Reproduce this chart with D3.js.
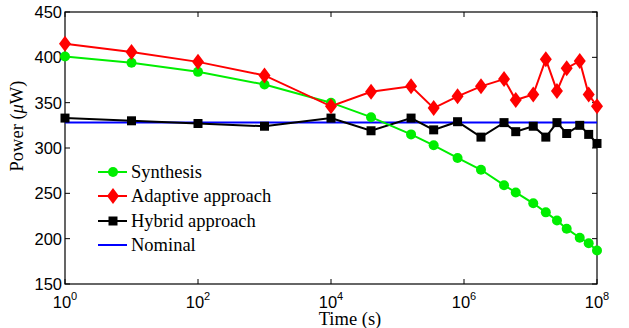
<!DOCTYPE html>
<html>
<head>
<meta charset="utf-8">
<script src="https://cdn.jsdelivr.net/npm/d3@7"></script>
<style>
  body { margin: 0; background: #fff; }
  svg { display: block; }
  .tick-label { font-family: "Liberation Sans", Arial, sans-serif; font-size: 16.5px; }
  .serif { font-family: "Liberation Serif", "Times New Roman", serif; font-size: 18.5px; }
</style>
</head>
<body>
<div id="chart"></div>
<script>
// time points (s)
var times = [1, 10, 100, 1000, 1e4, 4e4, 1.6e5, 3.5e5, 8e5, 1.8e6, 4e6, 6e6,
  1.1e7, 1.7e7, 2.5e7, 3.5e7, 5.5e7, 7.5e7, 1e8]

// power values (uW)
var synthesis = [401, 394, 384, 370, 350, 334, 315, 303, 289, 276, 259, 251,
  239, 229, 220, 211, 201, 195, 187]
var adaptive = [415, 406, 395, 380, 346, 362, 368, 344, 357, 368, 376, 353,
  359, 398, 363, 388, 396, 359, 346]
var hybrid = [333, 330, 327, 324, 333, 319, 333, 320, 329, 312, 328, 318,
  324, 312, 328, 316, 325, 315, 305]
var nominal = 328

var xTicks = [0, 2, 4, 6, 8]
var yTicks = [150, 200, 250, 300, 350, 400, 450]
var legendNames = ["Synthesis", "Adaptive approach", "Hybrid approach", "Nominal"]

const margin = {top: 12, right: 32, bottom: 44, left: 65},
    width = 629 - margin.left - margin.right,
    height = 328 - margin.top - margin.bottom

var svg = d3.select("#chart")
  .append("svg")
  .attr("width", 629)
  .attr("height", 328)

var g = svg.append("g")
  .attr("transform", "translate(" + margin.left + "," + margin.top + ")")

var x = d3.scaleLog().domain([1, 1e8]).range([0, width])
var y = d3.scaleLinear().domain([150, 450]).range([height, 0])

// frame
g.append("rect")
  .attr("width", width).attr("height", height)
  .attr("fill", "none").attr("stroke", "#000").attr("stroke-width", 1.2)

// ticks (inside, all four sides)
xTicks.forEach(function(p) {
  var xx = x(Math.pow(10, p))
  g.append("line").attr("x1", xx).attr("x2", xx).attr("y1", height).attr("y2", height - 5).attr("stroke", "#000")
  g.append("line").attr("x1", xx).attr("x2", xx).attr("y1", 0).attr("y2", 5).attr("stroke", "#000")
  var t = g.append("text").attr("class", "tick-label")
    .attr("x", xx).attr("y", height + 24).attr("text-anchor", "middle")
  t.append("tspan").text("10")
  t.append("tspan").attr("dy", -8).attr("font-size", "11px").text(p)
})
yTicks.forEach(function(v) {
  var yy = y(v)
  g.append("line").attr("x1", 0).attr("x2", 5).attr("y1", yy).attr("y2", yy).attr("stroke", "#000")
  g.append("line").attr("x1", width).attr("x2", width - 5).attr("y1", yy).attr("y2", yy).attr("stroke", "#000")
  g.append("text").attr("class", "tick-label")
    .attr("x", -3).attr("y", yy).attr("dy", "0.36em")
    .attr("text-anchor", "end").text(v)
})

// axis titles
svg.append("text").attr("class", "serif")
  .attr("x", 350).attr("y", 325)
  .attr("text-anchor", "middle").text("Time (s)")

var yt = svg.append("text").attr("class", "serif")
  .attr("transform", "translate(23,126) rotate(-90)")
  .attr("text-anchor", "middle")
yt.append("tspan").text("Power (")
yt.append("tspan").attr("font-style", "italic").text("\u03bc")
yt.append("tspan").text("W)")

var line = d3.line()
  .x(function(d) { return x(d[0]) })
  .y(function(d) { return y(d[1]) })

function pairs(vals) {
  return times.map(function(t, i) { return [t, vals[i]] })
}

var plot = g.append("g")

// nominal
plot.append("path")
  .attr("d", line([[1, nominal], [1e8, nominal]]))
  .attr("fill", "none").attr("stroke", "#0000ff").attr("stroke-width", 2)

function drawSeries(vals, color, marker) {
  var data = pairs(vals)
  plot.append("path")
    .attr("d", line(data))
    .attr("fill", "none").attr("stroke", color).attr("stroke-width", 2)
  plot.append("g").selectAll("path")
    .data(data).enter()
    .append("path")
    .attr("transform", function(d) { return "translate(" + x(d[0]) + "," + y(d[1]) + ")" })
    .attr("d", marker)
    .attr("fill", color)
}

var circleM = "M5,0A5,5 0 1,1 -5,0A5,5 0 1,1 5,0Z"
var diamondM = "M0,-8L6,0L0,8L-6,0Z"
var squareM = "M-4.5,-4.5H4.5V4.5H-4.5Z"

drawSeries(hybrid, "#000000", squareM)
drawSeries(synthesis, "#00ee00", circleM)
drawSeries(adaptive, "#ff0000", diamondM)

// legend
var legendColors = ["#00ee00", "#ff0000", "#000000", "#0000ff"]
var legendMarkers = [circleM, diamondM, squareM, null]
var legendY = [172, 196, 221, 245]
legendNames.forEach(function(name, i) {
  svg.append("line")
    .attr("x1", 98).attr("x2", 127).attr("y1", legendY[i]).attr("y2", legendY[i])
    .attr("stroke", legendColors[i]).attr("stroke-width", 2)
  if (legendMarkers[i]) {
    svg.append("path")
      .attr("transform", "translate(113," + legendY[i] + ")")
      .attr("d", legendMarkers[i]).attr("fill", legendColors[i])
  }
  svg.append("text").attr("class", "serif")
    .attr("x", 131).attr("y", legendY[i]).attr("dy", "0.3em")
    .text(name)
})
</script>
</body>
</html>
